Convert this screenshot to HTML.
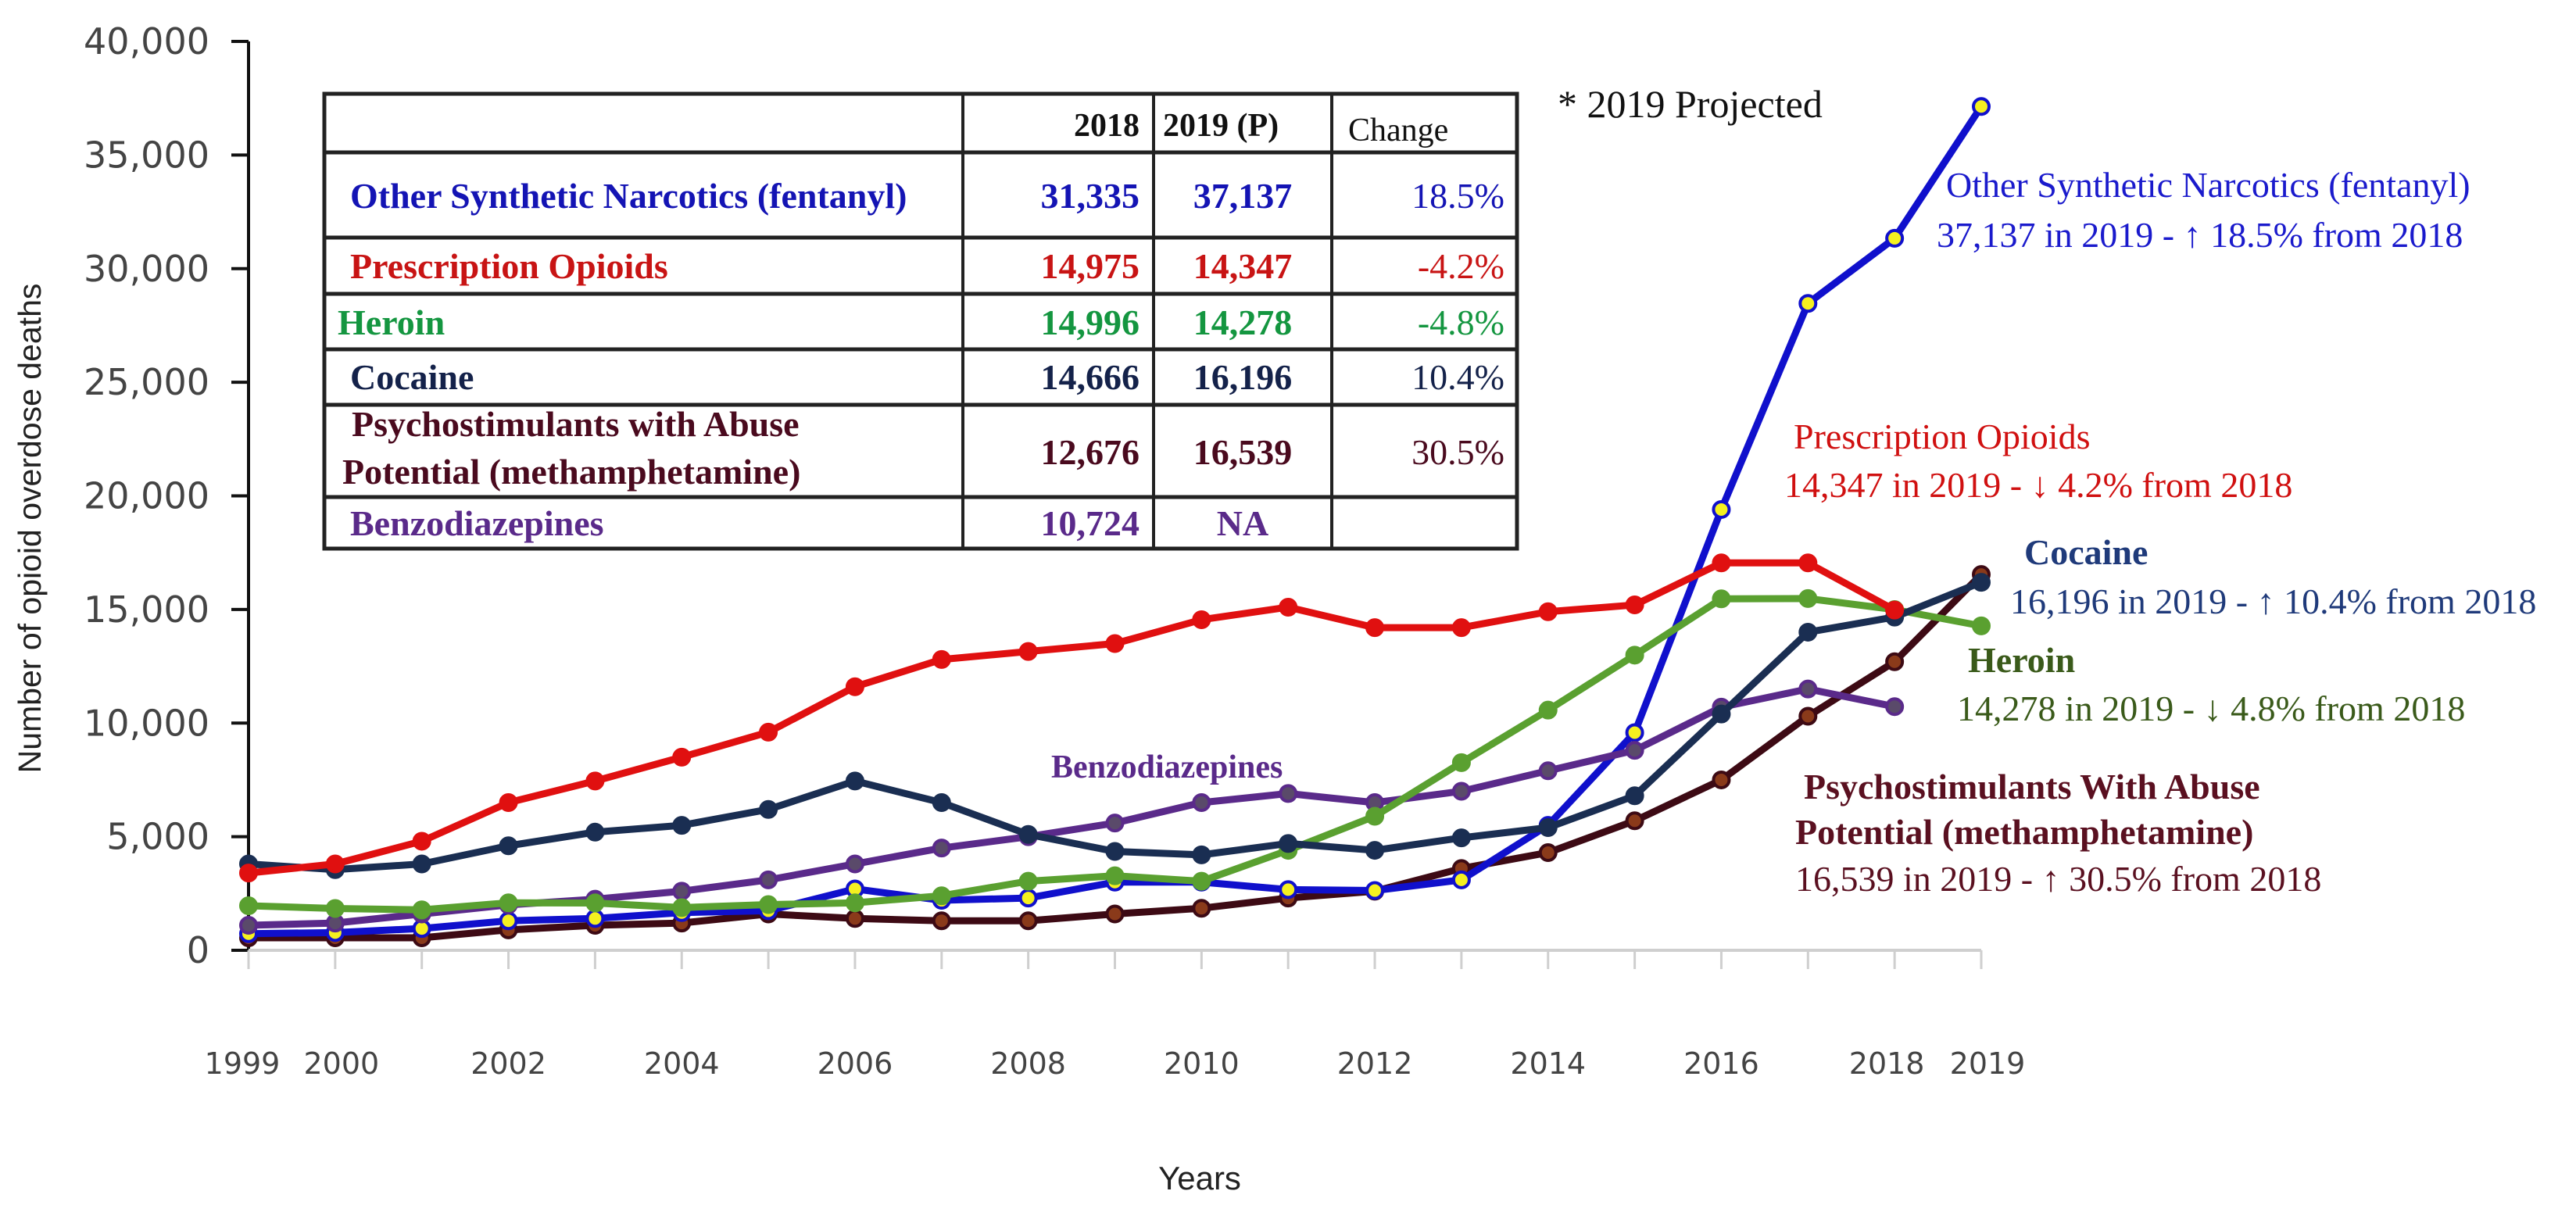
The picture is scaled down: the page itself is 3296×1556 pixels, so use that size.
<!DOCTYPE html>
<html><head><meta charset="utf-8"><style>
html,body{margin:0;padding:0;background:#fff;width:3296px;height:1556px;overflow:hidden}
svg{display:block}
</style></head><body>
<svg id="chart" width="3296" height="1556" xmlns="http://www.w3.org/2000/svg">
<g id="axes"></g>
<g id="series"></g>
<g id="table"></g>
<g id="notes" font-family="'Liberation Serif',serif" font-size="46"></g>
</svg>
<script>
const years=[1999,2000,2001,2002,2003,2004,2005,2006,2007,2008,2009,2010,2011,2012,2013,2014,2015,2016,2017,2018,2019];
const yTicks=[0,5000,10000,15000,20000,25000,30000,35000,40000];
const xTickLabels=[1999,2000,2002,2004,2006,2008,2010,2012,2014,2016,2018,2019];
const rxValues=[3400,3800,4800,6500,7450,8500,9600,11600,12800,13150,13500,14550,15100,14200,14200,14900,15200,17050,17050,14975];
const heroinValues=[1960,1840,1780,2090,2080,1880,2010,2090,2400,3040,3280,3040,4400,5900,8260,10570,12990,15470,15480,14996,14278];
const cocaineValues=[3800,3550,3800,4600,5200,5500,6200,7450,6500,5100,4350,4200,4700,4400,4950,5400,6800,10400,14000,14666,16196];
const fentanylValues=[730,780,960,1300,1400,1660,1740,2700,2200,2300,3000,3000,2670,2630,3100,5500,9580,19400,28470,31335,37137];
const benzoValues=[1100,1200,1600,2000,2250,2600,3100,3800,4500,5000,5600,6500,6900,6500,7000,7900,8800,10700,11500,10724];
const psychoValues=[550,550,550,900,1100,1200,1600,1400,1300,1300,1600,1850,2300,2600,3600,4300,5700,7500,10300,12700,16539];

const NS='http://www.w3.org/2000/svg';
const X0=318,X1=2535,Y0=1216,YTOP=53;
const xs=y=>X0+(y-1999)*(X1-X0)/20;
const ys=v=>Y0-v*(Y0-YTOP)/40000;
function mk(tag,attrs,parent,text){const e=document.createElementNS(NS,tag);for(const k in attrs)e.setAttribute(k,attrs[k]);if(text!==undefined)e.textContent=text;parent.appendChild(e);return e;}

const axes=document.getElementById('axes');
let e=mk('line',{x1:X0,y1:YTOP,x2:X0,y2:Y0,stroke:'#111','stroke-width':4},axes);


e=mk('line',{x1:X0,y1:Y0,x2:X1,y2:Y0,stroke:'#cfcfcf','stroke-width':4},axes);


yTicks.forEach(v=>{
  mk('line',{x1:X0-22,y1:ys(v),x2:X0,y2:ys(v),stroke:'#111','stroke-width':4},axes);
  const t=mk('text',{x:268,y:ys(v)+16,'text-anchor':'end','font-family':"'DejaVu Sans',sans-serif",'font-size':46,fill:'#444'},axes,v.toLocaleString('en-US'));
  
  
});
years.forEach(y=>{mk('line',{x1:xs(y),y1:Y0,x2:xs(y),y2:Y0+24,stroke:'#cfcfcf','stroke-width':3},axes);});
xTickLabels.forEach(y=>{
  let x=xs(y);
  if(y===1999)x-=8; if(y===2000)x+=8; if(y===2018)x-=10; if(y===2019)x+=8;
  const t=mk('text',{x:x,y:1374,'text-anchor':'middle','font-family':"'DejaVu Sans',sans-serif",'font-size':38,fill:'#444'},axes,String(y));
  
  
});
e=mk('text',{x:1535,y:1522,'text-anchor':'middle','font-family':"'Liberation Sans',sans-serif",'font-size':42,fill:'#222'},axes,'Years');


e=mk('text',{x:0,y:0,'text-anchor':'middle','font-family':"'Liberation Sans',sans-serif",'font-size':41,fill:'#222',transform:'translate(52,676) rotate(-90)'},axes,'Number of opioid overdose deaths');



const ser=document.getElementById('series');
function drawSeries(vals,line,fill,name){
  const g=mk('g',{},ser);
  
  
  const pts=vals.map((v,i)=>xs(years[i])+','+ys(v)).join(' ');
  mk('polyline',{points:pts,fill:'none',stroke:line,'stroke-width':9,'stroke-linejoin':'round'},g);
  vals.forEach((v,i)=>{
    const c=mk('circle',{cx:xs(years[i]),cy:ys(v),r:10,fill:fill,stroke:line,'stroke-width':4},g);
    
    
  });
}
drawSeries(psychoValues,'#3d0a14','#8a3a1a','psychostimulants-series');
drawSeries(fentanylValues,'#1010cc','#f5f020','fentanyl-series');
drawSeries(benzoValues,'#5a2a8a','#5a4a6a','benzodiazepines-series');
drawSeries(heroinValues,'#5aa030','#5aa030','heroin-series');
drawSeries(cocaineValues,'#1a2e52','#1a2e52','cocaine-series');
drawSeries(rxValues,'#e01010','#e01010','prescription-opioids-series');

const tb=document.getElementById('table');
const cols=[415,1232,1476,1704,1941];
const rows=[120,195,304,376,447,518,636,702];
mk('rect',{x:415,y:120,width:1526,height:582,fill:'#fff',stroke:'#222','stroke-width':5},tb);
rows.slice(1,-1).forEach(r=>mk('line',{x1:415,y1:r,x2:1941,y2:r,stroke:'#222','stroke-width':5},tb));
cols.slice(1,-1).forEach(c=>mk('line',{x1:c,y1:120,x2:c,y2:702,stroke:'#222','stroke-width':4},tb));
const F="'Liberation Serif',serif";
function cell(x,y,txt,col,anchor,bold,name,size){
  const t=mk('text',{x:x,y:y,'text-anchor':anchor,'font-family':F,'font-size':size||46,'font-weight':bold?'bold':'normal',fill:col},tb,txt);
  
  
}
cell(1458,174,'2018','#111','end',true,'header-2018',42);
cell(1488,174,'2019 (P)','#111','start',true,'header-2019',42);
cell(1725,180,'Change','#111','start',false,'header-change',42);
const tr=[
 ['Other Synthetic Narcotics (fentanyl)','31,335','37,137','18.5%','#1414b4',266,448],
 ['Prescription Opioids','14,975','14,347','-4.2%','#c81414',356,448],
 ['Heroin','14,996','14,278','-4.8%','#149640',428,432],
 ['Cocaine','14,666','16,196','10.4%','#14224a',498,448],
 ['','12,676','16,539','30.5%','#4a0a1e',594,448],
 ['Benzodiazepines','10,724','NA','','#5a2a8a',685,448]];
tr.forEach((r,i)=>{
  if(r[0])cell(r[6],r[5],r[0],r[4],'start',true,'row-label');
  cell(1458,r[5],r[1],r[4],'end',true,'value-2018');
  cell(1590,r[5],r[2],r[4],'middle',true,'value-2019');
  if(r[3])cell(1925,r[5],r[3],r[4],'end',false,'value-change');
});
cell(450,558,'Psychostimulants with Abuse','#4a0a1e','start',true,'row-label');
cell(438,619,'Potential (methamphetamine)','#4a0a1e','start',true,'row-label');

const nt=document.getElementById('notes');
function note(x,y,txt,col,bold,name,size){
  const t=mk('text',{x:x,y:y,fill:col,'font-weight':bold?'bold':'normal'},nt,txt);
  if(size)t.setAttribute('font-size',size);
  
  
}
note(1993,150,'* 2019 Projected','#111',false,'projected-note',50);
note(2490,252,'Other Synthetic Narcotics (fentanyl)','#1a1acc',false,'fentanyl-label');
note(2478,316,'37,137 in 2019 - \u2191 18.5% from 2018','#1a1acc',false,'fentanyl-annotation');
note(2295,574,'Prescription Opioids','#d01010',false,'prescription-label');
note(2283,636,'14,347 in 2019 - \u2193 4.2% from 2018','#d01010',false,'prescription-annotation');
note(2590,722,'Cocaine','#1f3a7a',true,'cocaine-label');
note(2572,785,'16,196  in 2019 - \u2191 10.4% from 2018','#1f3a7a',false,'cocaine-annotation');
note(2518,860,'Heroin','#3a5a1a',true,'heroin-label');
note(2504,922,'14,278 in 2019 - \u2193 4.8% from 2018','#3a5a1a',false,'heroin-annotation');
note(2308,1022,'Psychostimulants With Abuse','#5a1020',true,'psychostimulants-label');
note(2297,1080,'Potential (methamphetamine)','#5a1020',true,'psychostimulants-label-2');
note(2297,1140,'16,539  in 2019 - \u2191 30.5% from 2018','#5a1020',false,'psychostimulants-annotation');
note(1345,995,'Benzodiazepines','#5a2a8a',true,'benzodiazepines-label',42);
</script>
</body></html>
